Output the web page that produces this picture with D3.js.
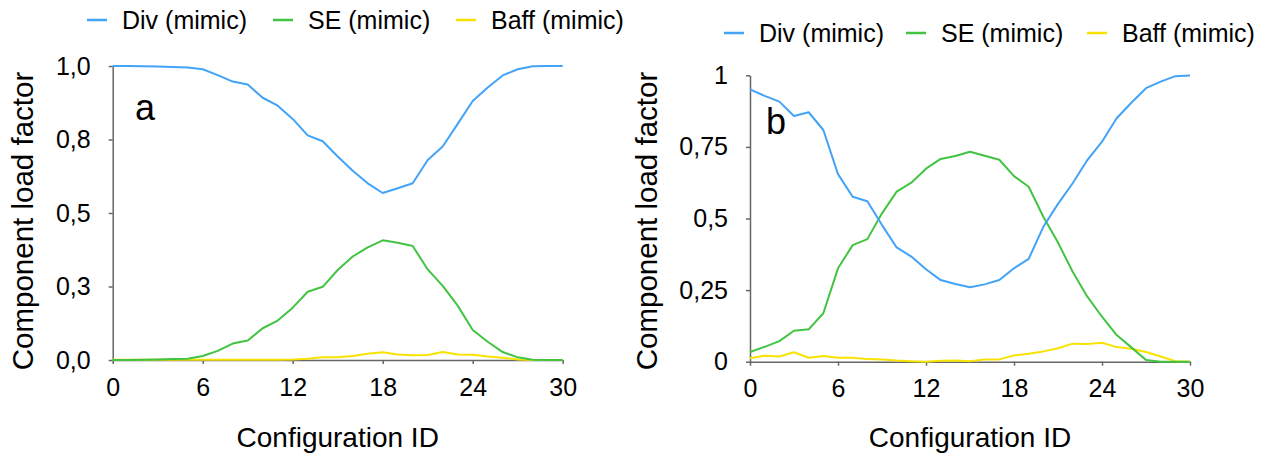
<!DOCTYPE html>
<html>
<head>
<meta charset="utf-8">
<script src="https://cdn.jsdelivr.net/npm/d3@7/dist/d3.min.js"></script>
<style>
    body { margin: 0; background: #fff; }
    svg { display: block; font-family: "Liberation Sans", Arial, Helvetica, sans-serif; }
    .axis path, .axis line { stroke: #666; stroke-width: 1.5; }
    .axis text { fill: #000; }
    .series { fill: none; stroke-width: 2; stroke-linejoin: round; }
</style>
</head>
<body>
<div id="chart"></div>
<script>
/*
 * Configuration IDs (x axis).
 */
var configIds = [0, 1, 2, 3, 4, 5, 6, 7, 8, 9, 10, 11, 12, 13, 14, 15,
    16, 17, 18, 19, 20, 21, 22, 23, 24, 25, 26, 27, 28, 29, 30];
var xTicks = [0, 6, 12, 18, 24, 30];
/*
 * Panel "a" series.
 */
var divA = [1.0, 1.0, 0.999, 0.998, 0.997, 0.995, 0.989, 0.969, 0.947, 0.937,
    0.892, 0.865, 0.820, 0.764, 0.744, 0.692, 0.644, 0.601, 0.568, 0.584,
    0.601, 0.680, 0.726, 0.803, 0.881, 0.927, 0.968, 0.989, 0.999, 1.0, 1.0];
var seA = [0, 0, 0.001, 0.002, 0.003, 0.0045, 0.0136, 0.031, 0.056, 0.066,
    0.108, 0.134, 0.178, 0.232, 0.249, 0.306, 0.352, 0.383, 0.407, 0.399,
    0.388, 0.308, 0.252, 0.185, 0.102, 0.062, 0.027, 0.009, 0.001, 0, 0];
var baffA = [0.001, 0.001, 0.001, 0.001, 0.001, 0.001, 0.001, 0.001, 0.001, 0.001,
    0.001, 0.001, 0.002, 0.0045, 0.009, 0.009, 0.0136, 0.0215, 0.026, 0.019,
    0.016, 0.017, 0.027, 0.019, 0.018, 0.012, 0.008, 0.002, 0, 0, 0];
var yTicksA = [0, 0.25, 0.5, 0.75, 1];
var yTickLabelsA = ['0,0', '0,3', '0,5', '0,8', '1,0'];
/*
 * Panel "b" series.
 */
var divB = [0.951, 0.928, 0.908, 0.858, 0.871, 0.809, 0.655, 0.576, 0.560, 0.477,
    0.399, 0.367, 0.323, 0.285, 0.271, 0.260, 0.270, 0.285, 0.326, 0.359,
    0.471, 0.551, 0.623, 0.704, 0.768, 0.850, 0.904, 0.955, 0.978, 0.997, 0.999];
var seB = [0.034, 0.052, 0.072, 0.108, 0.113, 0.169, 0.326, 0.407, 0.428, 0.518,
    0.594, 0.625, 0.674, 0.708, 0.718, 0.733, 0.719, 0.705, 0.648, 0.611,
    0.506, 0.416, 0.314, 0.227, 0.157, 0.093, 0.050, 0.006, 0, 0, 0];
var baffB = [0.012, 0.021, 0.018, 0.033, 0.014, 0.020, 0.014, 0.014, 0.009, 0.008,
    0.004, 0.002, 0, 0.003, 0.004, 0.002, 0.008, 0.008, 0.022, 0.028,
    0.036, 0.047, 0.063, 0.062, 0.066, 0.051, 0.045, 0.034, 0.018, 0.002, 0];
var yTicksB = [0, 0.25, 0.5, 0.75, 1];
var yTickLabelsB = ['0', '0,25', '0,5', '0,75', '1'];
/*
 * Series names and colours.
 */
var seriesNames = ['Div (mimic)', 'SE (mimic)', 'Baff (mimic)'];
var seriesColors = ['#42a3f7', '#42c442', '#f8e300'];


/**
 * Single load factor panel.
 * @public
 * @class
 * @param {Object} config
 */
function LoadChart(config) {
    /**
     * Panel options.
     * @private
     * @member {Object}
     */
    this._config = config;
    /**
     * X scale function.
     * @private
     * @member {Function}
     */
    this._xScale = d3.scaleLinear()
        .domain([0, 30])
        .range([config.x0, config.x1]);
    /**
     * Y scale function.
     * @private
     * @member {Function}
     */
    this._yScale = d3.scaleLinear()
        .domain([0, 1])
        .range([config.y0, config.y1]);
    /**
     * Line generator.
     * @private
     * @member {Function}
     */
    this._lineGenerator = d3.line()
        .x((d, i) => this._xScale(configIds[i]))
        .y(d => this._yScale(d));
}


/**
 * Render panel.
 * @public
 * @param {d3.selection} svg
 * @returns {LoadChart}
 */
LoadChart.prototype.renderTo = function(svg) {

    var c = this._config;
    var g = svg.append('g');
    /*
     * Axes.
     */
    g.append('g')
        .attr('class', 'axis')
        .attr('transform', 'translate(0,' + c.y0 + ')')
        .call(d3.axisBottom(this._xScale)
            .tickValues(xTicks)
            .tickSize(4)
            .tickSizeOuter(0)
            .tickPadding(14))
        .call(a => a.selectAll('text').attr('font-size', 25));

    g.append('g')
        .attr('class', 'axis')
        .attr('transform', 'translate(' + c.x0 + ',0)')
        .call(d3.axisLeft(this._yScale)
            .tickValues(c.yTicks)
            .tickFormat((d, i) => c.yTickLabels[i])
            .tickSize(4)
            .tickSizeOuter(0)
            .tickPadding(18))
        .call(a => a.selectAll('text').attr('font-size', 25));
    /*
     * Axis titles.
     */
    g.append('text')
        .attr('x', (c.x0 + c.x1) / 2)
        .attr('y', 447)
        .attr('text-anchor', 'middle')
        .attr('font-size', 28)
        .text('Configuration ID');

    g.append('text')
        .attr('transform', 'translate(' + c.titleX + ',221) rotate(-90)')
        .attr('dy', '0.35em')
        .attr('text-anchor', 'middle')
        .attr('font-size', 29.5)
        .text('Component load factor');
    /*
     * Data lines, yellow at the bottom.
     */
    [2, 1, 0].forEach(function(k) {
        g.append('path')
            .attr('class', 'series')
            .attr('stroke', seriesColors[k])
            .attr('d', this._lineGenerator(c.series[k]));
    }, this);
    /*
     * Panel letter.
     */
    g.append('text')
        .attr('x', c.letterX)
        .attr('y', c.letterY)
        .attr('font-size', 36)
        .text(c.letter);
    /*
     * Legend.
     */
    c.legendX.forEach(function(lx, k) {
        g.append('line')
            .attr('x1', lx)
            .attr('x2', lx + 20)
            .attr('y1', c.legendY)
            .attr('y2', c.legendY)
            .attr('stroke', seriesColors[k])
            .attr('stroke-width', 2.5);
        g.append('text')
            .attr('x', lx + 35)
            .attr('y', c.legendY)
            .attr('dy', '0.35em')
            .attr('font-size', 25)
            .text(seriesNames[k]);
    });

    return this;
};


/*
 * Build the figure.
 */
var svg = d3.select('#chart').append('svg')
    .attr('width', 1265)
    .attr('height', 454);

new LoadChart({
    x0: 112.7, x1: 562.7, y0: 360, y1: 66,
    yTicks: yTicksA, yTickLabels: yTickLabelsA,
    series: [divA, seA, baffA],
    titleX: 23, letter: 'a', letterX: 135, letterY: 120,
    legendX: [87, 273, 456], legendY: 20
}).renderTo(svg);

new LoadChart({
    x0: 750, x1: 1190, y0: 361.7, y1: 75.3,
    yTicks: yTicksB, yTickLabels: yTickLabelsB,
    series: [divB, seB, baffB],
    titleX: 647, letter: 'b', letterX: 766, letterY: 134,
    legendX: [724, 906, 1087], legendY: 33
}).renderTo(svg);
</script>
</body>
</html>
